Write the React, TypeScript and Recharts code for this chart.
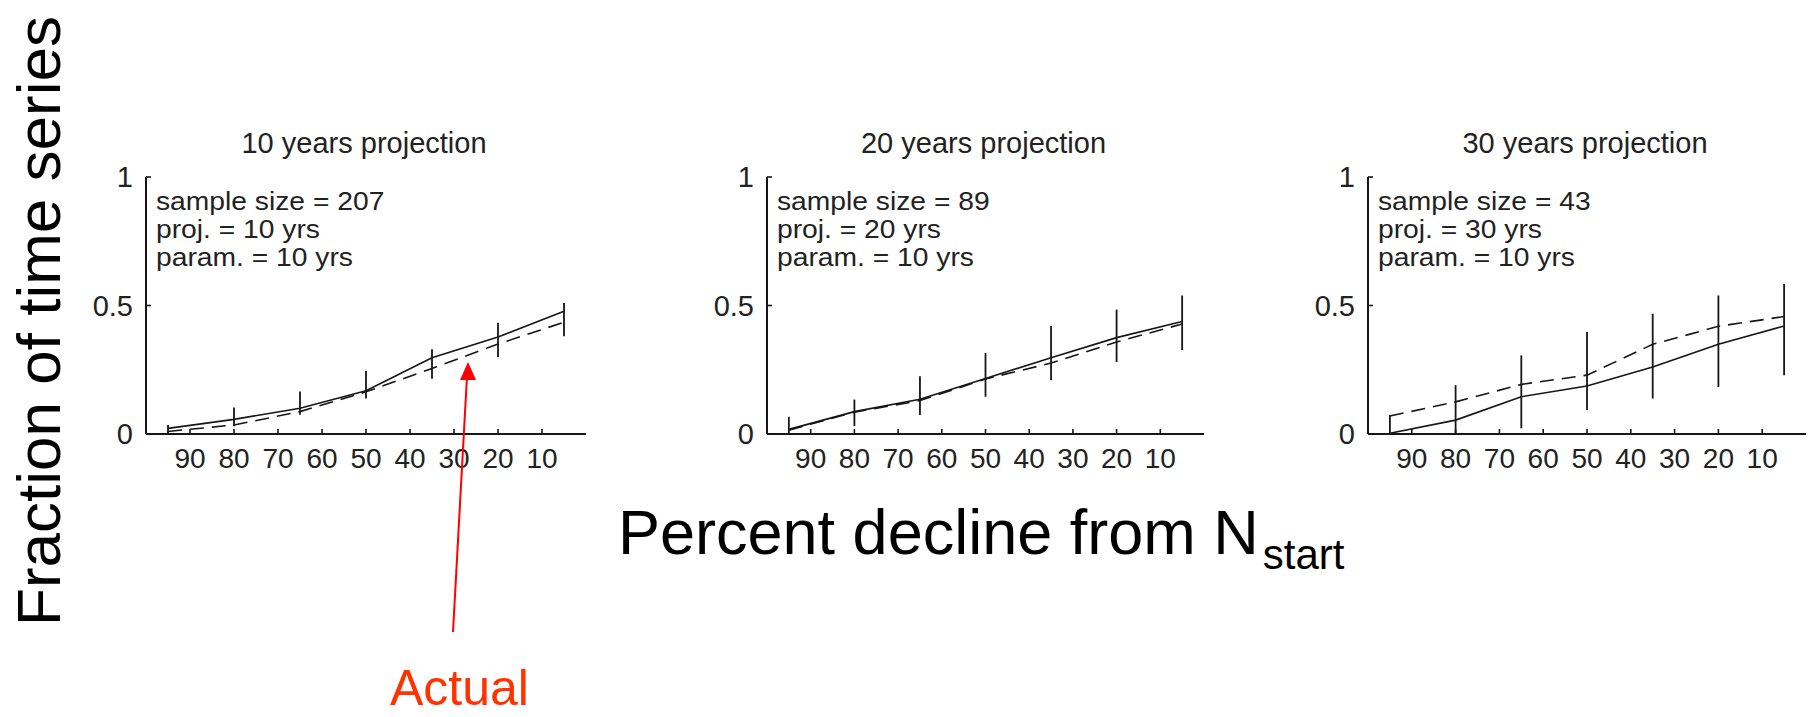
import React from 'react';
import { LineChart, Line, XAxis, YAxis, ErrorBar } from 'recharts';

// ---- data ----
const percentDecline = [95, 80, 65, 50, 35, 20, 5];
const xTickValues = [90, 80, 70, 60, 50, 40, 30, 20, 10];
const yTickValues = [0, 0.5, 1];

// 10 years projection
const predicted10 = [0.022, 0.057, 0.1, 0.168, 0.297, 0.377, 0.478];
const actual10 = [0.01, 0.035, 0.087, 0.164, 0.255, 0.35, 0.435];
const low10 = [0, 0.03, 0.075, 0.138, 0.215, 0.3, 0.38];
const high10 = [0.035, 0.103, 0.165, 0.245, 0.33, 0.433, 0.51];

// 20 years projection
const predicted20 = [0.018, 0.087, 0.135, 0.216, 0.297, 0.375, 0.438];
const actual20 = [0.015, 0.085, 0.13, 0.214, 0.276, 0.358, 0.428];
const low20 = [0, 0.031, 0.074, 0.145, 0.209, 0.28, 0.326];
const high20 = [0.067, 0.134, 0.225, 0.315, 0.42, 0.484, 0.539];

// 30 years projection
const predicted30 = [0.003, 0.054, 0.145, 0.187, 0.261, 0.349, 0.42];
const actual30 = [0.07, 0.125, 0.193, 0.229, 0.349, 0.419, 0.457];
const low30 = [0, 0, 0.022, 0.093, 0.138, 0.183, 0.229];
const high30 = [0.074, 0.19, 0.306, 0.397, 0.468, 0.539, 0.584];

const panelTitles = ['10 years projection', '20 years projection', '30 years projection'];
const sampleSizes = [207, 89, 43];
const projYears = [10, 20, 30];
const paramYears = [10, 10, 10];

const yAxisTitle = 'Fraction of time series';
const xAxisTitleMain = 'Percent decline from N';
const xAxisTitleSub = 'start';
const arrowLabel = 'Actual';

// ---- layout ----
const FONT = '"Liberation Sans", Arial, Helvetica, sans-serif';
const PLOT_TOP = 177;
const PLOT_HEIGHT = 257;
const MARGIN_TOP = 17;
const X_AXIS_H = 50;
const Y_AXIS_W = 70;
const TICK_MARGIN = 10;
const panelAxisX = [146, 767, 1368];
const panelPlotW = [440, 437, 438];
const panelRight = [10, 10, 4];
const INK = '#161616';

const buildRows = (pred: number[], act: number[], lo: number[], hi: number[]) =>
  percentDecline.map((p, i) => ({
    pct: p,
    predicted: pred[i],
    actual: act[i],
    err: [pred[i] - lo[i], hi[i] - pred[i]],
  }));

const panelData = [
  buildRows(predicted10, actual10, low10, high10),
  buildRows(predicted20, actual20, low20, high20),
  buildRows(predicted30, actual30, low30, high30),
];

const XTick = (props: any) => {
  const { x, y, payload } = props;
  const axisY = y - TICK_MARGIN;
  return (
    <g>
      <line x1={x} x2={x} y1={axisY} y2={axisY - 5} stroke={INK} strokeWidth={1.6} />
      <text x={x} y={axisY + 34} textAnchor="middle" fontSize={28} fontFamily={FONT} fill="#222">
        {payload.value}
      </text>
    </g>
  );
};

const YTick = (props: any) => {
  const { x, y, payload } = props;
  const axisX = x + TICK_MARGIN;
  return (
    <g>
      <line x1={axisX} x2={axisX + 5} y1={y} y2={y} stroke={INK} strokeWidth={1.6} />
      <text x={axisX - 13} y={y + 10} textAnchor="end" fontSize={29} fontFamily={FONT} fill="#222">
        {payload.value}
      </text>
    </g>
  );
};

const Panel = ({ idx }: { idx: number }) => {
  const width = Y_AXIS_W + panelPlotW[idx] + panelRight[idx];
  const height = MARGIN_TOP + PLOT_HEIGHT + X_AXIS_H;
  return (
    <div
      style={{
        position: 'absolute',
        left: panelAxisX[idx] - Y_AXIS_W,
        top: PLOT_TOP - MARGIN_TOP,
        width,
        height,
      }}
    >
      <LineChart
        width={width}
        height={height}
        data={panelData[idx]}
        margin={{ top: MARGIN_TOP, right: panelRight[idx], bottom: 0, left: 0 }}
      >
        <XAxis
          dataKey="pct"
          type="number"
          domain={[0, 100]}
          reversed
          ticks={xTickValues}
          interval={0}
          height={X_AXIS_H}
          tickSize={0}
          tickMargin={TICK_MARGIN}
          tickLine={false}
          tick={XTick}
          axisLine={{ stroke: INK, strokeWidth: 2 }}
          allowDataOverflow
        />
        <YAxis
          type="number"
          domain={[0, 1]}
          ticks={yTickValues}
          interval={0}
          width={Y_AXIS_W}
          tickSize={0}
          tickMargin={TICK_MARGIN}
          tickLine={false}
          tick={YTick}
          axisLine={{ stroke: INK, strokeWidth: 2 }}
          allowDataOverflow
        />
        <Line
          dataKey="actual"
          stroke={INK}
          strokeWidth={1.6}
          strokeDasharray="14 8"
          dot={false}
          activeDot={false}
          isAnimationActive={false}
        />
        <Line
          dataKey="predicted"
          stroke={INK}
          strokeWidth={1.6}
          dot={false}
          activeDot={false}
          isAnimationActive={false}
        >
          <ErrorBar dataKey="err" direction="y" width={0} stroke={INK} strokeWidth={1.8} isAnimationActive={false} />
        </Line>
      </LineChart>
    </div>
  );
};

export default function App() {
  return (
    <div
      style={{
        position: 'absolute',
        left: 0,
        top: 0,
        width: 1812,
        height: 717,
        overflow: 'hidden',
        background: '#fff',
      }}
    >
      {[0, 1, 2].map((i) => (
        <Panel key={i} idx={i} />
      ))}
      <svg
        width={1812}
        height={717}
        style={{ position: 'absolute', left: 0, top: 0, pointerEvents: 'none' }}
      >
        {[0, 1, 2].map((i) => (
          <g key={i} fontFamily={FONT} fill="#222">
            <text x={panelAxisX[i] + panelPlotW[i] / 2 - 2} y={153} textAnchor="middle" fontSize={29}>
              {panelTitles[i]}
            </text>
            <g transform={`translate(${panelAxisX[i] + 10}, 0) scale(1.13, 1)`}>
              <text x={0} y={210} fontSize={25}>
                {`sample size = ${sampleSizes[i]}`}
              </text>
              <text x={0} y={238} fontSize={25}>
                {`proj. = ${projYears[i]} yrs`}
              </text>
              <text x={0} y={266} fontSize={25}>
                {`param. = ${paramYears[i]} yrs`}
              </text>
            </g>
          </g>
        ))}
        <text
          x={60}
          y={321}
          transform="rotate(-90 60 321)"
          textAnchor="middle"
          fontSize={62}
          fontFamily={FONT}
          fill="#000"
        >
          {yAxisTitle}
        </text>
        <text x={618} y={554} fontSize={63} fontFamily={FONT} fill="#000">
          <tspan>{xAxisTitleMain}</tspan>
          <tspan fontSize={42} dx={4} dy={15}>
            {xAxisTitleSub}
          </tspan>
        </text>
        <line x1={453} y1={632} x2={467} y2={376} stroke="#ff0000" strokeWidth={2} />
        <polygon points="468,362 460,380 476,380" fill="#ff0000" />
        <text x={390} y={705} fontSize={50} fontFamily={FONT} fill="#ff3300">
          {arrowLabel}
        </text>
      </svg>
    </div>
  );
}
